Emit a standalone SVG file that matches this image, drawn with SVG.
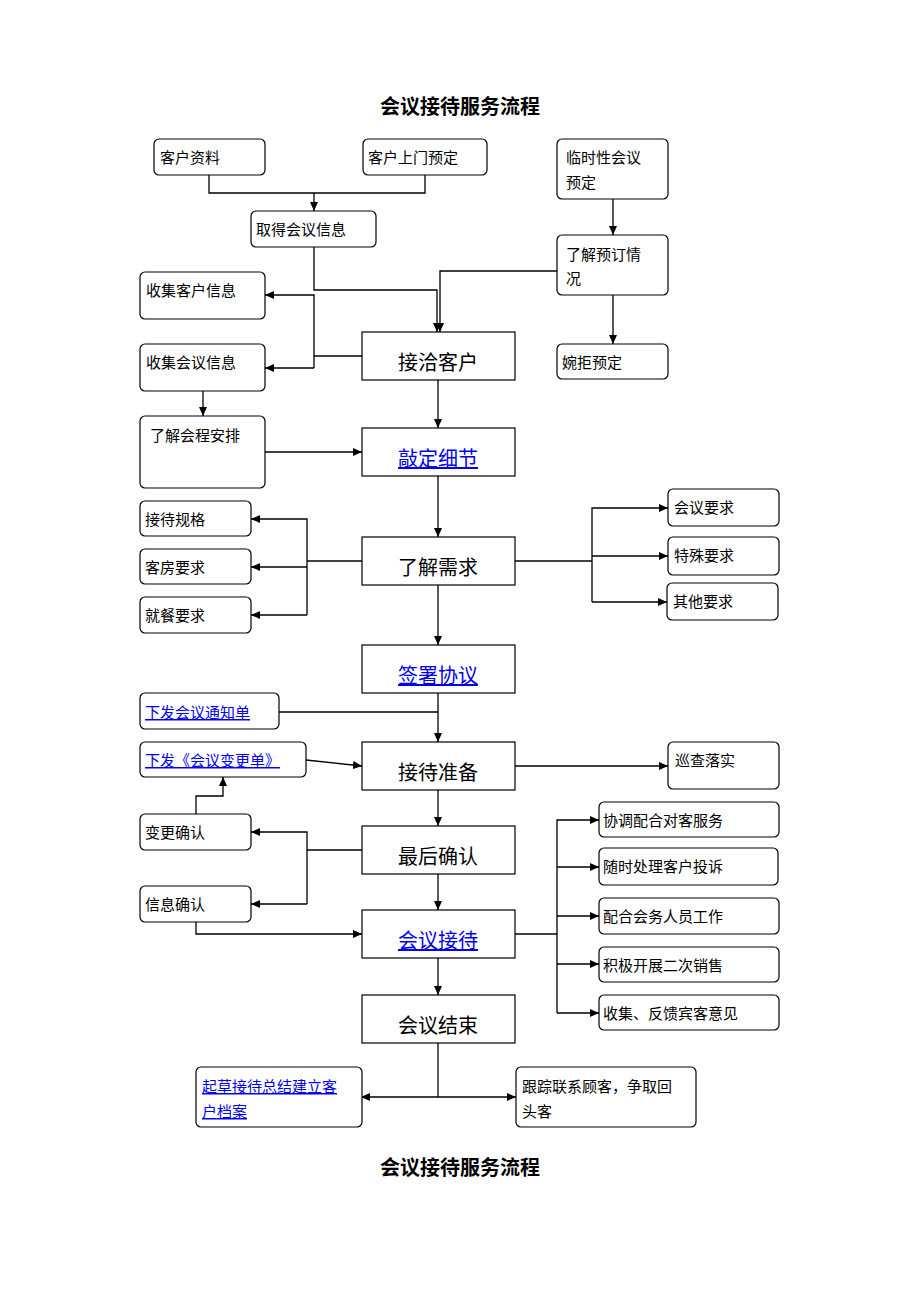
<svg xmlns="http://www.w3.org/2000/svg" width="920" height="1302" viewBox="0 0 920 1302">
<defs>
<marker id="a" markerWidth="10" markerHeight="10" refX="9" refY="5" orient="auto" markerUnits="userSpaceOnUse"><path d="M0,1 L9,5 L0,9 Z" fill="#000"/></marker>
<marker id="s" markerWidth="10" markerHeight="10" refX="1" refY="5" orient="auto" markerUnits="userSpaceOnUse"><path d="M9,1 L0,5 L9,9 Z" fill="#000"/></marker>
</defs>
<style>
text{font-family:"Noto Sans CJK SC","Liberation Sans",sans-serif;fill:#000}
.r{fill:#fff;stroke:#000;stroke-width:1.2}
.t{font-size:15px}
.m{font-size:20px;text-anchor:middle}
.l{fill:#0000ee;text-decoration:underline}
.title{font-size:20px;font-weight:bold;text-anchor:middle}
#c path,#c line,#c polyline{fill:none;stroke:#000;stroke-width:1.3}
</style>
<rect width="920" height="1302" fill="#fff"/>
<text class="title" x="460" y="114">会议接待服务流程</text>
<text class="title" x="460" y="1175">会议接待服务流程</text>
<g id="c">
<polyline points="209,175 209,193 425,193 425,175"/>
<line x1="314" y1="193" x2="314" y2="211" marker-end="url(#a)"/>
<polyline points="314,247 314,290 437,290 437,332" marker-end="url(#a)"/>
<polyline points="557,271 440,271 440,332" marker-end="url(#a)"/>
<line x1="613" y1="199" x2="613" y2="235" marker-end="url(#a)"/>
<line x1="613" y1="295" x2="613" y2="344" marker-end="url(#a)"/>
<line x1="362" y1="356" x2="314" y2="356"/>
<polyline points="314,368 314,295 265,295" marker-end="url(#a)"/>
<line x1="314" y1="368" x2="265" y2="368" marker-end="url(#a)"/>
<line x1="203" y1="391" x2="203" y2="416" marker-end="url(#a)"/>
<line x1="265" y1="452" x2="362" y2="452" marker-end="url(#a)"/>
<line x1="438" y1="380" x2="438" y2="428" marker-end="url(#a)"/>
<line x1="438" y1="476" x2="438" y2="537" marker-end="url(#a)"/>
<line x1="438" y1="585" x2="438" y2="645" marker-end="url(#a)"/>
<line x1="438" y1="693" x2="438" y2="742" marker-end="url(#a)"/>
<line x1="438" y1="790" x2="438" y2="826" marker-end="url(#a)"/>
<line x1="438" y1="874" x2="438" y2="910" marker-end="url(#a)"/>
<line x1="438" y1="958" x2="438" y2="995" marker-end="url(#a)"/>
<line x1="362" y1="561" x2="307" y2="561"/>
<polyline points="307,615 307,519 251,519" marker-end="url(#a)"/>
<line x1="307" y1="567" x2="251" y2="567" marker-end="url(#a)"/>
<line x1="307" y1="615" x2="251" y2="615" marker-end="url(#a)"/>
<line x1="515" y1="561" x2="592" y2="561"/>
<polyline points="592,602 592,508 668,508" marker-end="url(#a)"/>
<line x1="592" y1="556" x2="668" y2="556" marker-end="url(#a)"/>
<line x1="592" y1="602" x2="667" y2="602" marker-end="url(#a)"/>
<line x1="279" y1="712" x2="438" y2="712"/>
<line x1="306" y1="760" x2="362" y2="766" marker-end="url(#a)"/>
<line x1="515" y1="766" x2="668" y2="766" marker-end="url(#a)"/>
<line x1="362" y1="850" x2="307" y2="850"/>
<polyline points="307,904 307,832 251,832" marker-end="url(#a)"/>
<line x1="307" y1="904" x2="251" y2="904" marker-end="url(#a)"/>
<polyline points="196,814 196,796 223,796 223,777" marker-end="url(#a)"/>
<polyline points="196,922 196,934 362,934" marker-end="url(#a)"/>
<line x1="515" y1="934" x2="557" y2="934"/>
<polyline points="557,1013 557,820 599,820" marker-end="url(#a)"/>
<line x1="557" y1="867" x2="599" y2="867" marker-end="url(#a)"/>
<line x1="557" y1="916" x2="599" y2="916" marker-end="url(#a)"/>
<line x1="557" y1="964" x2="599" y2="964" marker-end="url(#a)"/>
<line x1="557" y1="1013" x2="599" y2="1013" marker-end="url(#a)"/>
<line x1="438" y1="1043" x2="438" y2="1097"/>
<line x1="362" y1="1097" x2="516" y2="1097" marker-start="url(#s)" marker-end="url(#a)"/>
</g>
<g id="n1"><rect class="r" x="154" y="139" width="111" height="36" rx="5"/><text class="t" x="160" y="163">客户资料</text></g>
<g id="n2"><rect class="r" x="363" y="139" width="124" height="36" rx="5"/><text class="t" x="368" y="163">客户上门预定</text></g>
<g id="n3"><rect class="r" x="557" y="139" width="111" height="60" rx="5"/><text class="t" x="566" y="163">临时性会议</text><text class="t" x="566" y="188">预定</text></g>
<g id="n4"><rect class="r" x="251" y="211" width="125" height="36" rx="5"/><text class="t" x="256" y="235">取得会议信息</text></g>
<g id="n5"><rect class="r" x="557" y="235" width="111" height="60" rx="5"/><text class="t" x="566" y="260">了解预订情</text><text class="t" x="566" y="284">况</text></g>
<g id="n6"><rect class="r" x="140" y="272" width="125" height="47" rx="5"/><text class="t" x="146" y="296">收集客户信息</text></g>
<g id="n7"><rect class="r" x="140" y="344" width="125" height="47" rx="5"/><text class="t" x="146" y="368">收集会议信息</text></g>
<g id="n8"><rect class="r" x="557" y="344" width="111" height="35" rx="5"/><text class="t" x="562" y="368">婉拒预定</text></g>
<g id="n9"><rect class="r" x="140" y="416" width="125" height="72" rx="5"/><text class="t" x="150" y="441">了解会程安排</text></g>
<g id="m1"><rect class="r" x="362" y="332" width="153" height="48"/><text class="m" x="438" y="370">接洽客户</text></g>
<g id="m2"><rect class="r" x="362" y="428" width="153" height="48"/><text class="m l" x="438" y="466">敲定细节</text></g>
<g id="m3"><rect class="r" x="362" y="537" width="153" height="48"/><text class="m" x="438" y="575">了解需求</text></g>
<g id="m4"><rect class="r" x="362" y="645" width="153" height="48"/><text class="m l" x="438" y="683">签署协议</text></g>
<g id="m5"><rect class="r" x="362" y="742" width="153" height="48"/><text class="m" x="438" y="780">接待准备</text></g>
<g id="m6"><rect class="r" x="362" y="826" width="153" height="48"/><text class="m" x="438" y="864">最后确认</text></g>
<g id="m7"><rect class="r" x="362" y="910" width="153" height="48"/><text class="m l" x="438" y="948">会议接待</text></g>
<g id="m8"><rect class="r" x="362" y="995" width="153" height="48"/><text class="m" x="438" y="1033">会议结束</text></g>
<g id="n10"><rect class="r" x="140" y="501" width="111" height="35" rx="5"/><text class="t" x="145" y="525">接待规格</text></g>
<g id="n11"><rect class="r" x="140" y="549" width="111" height="35" rx="5"/><text class="t" x="145" y="573">客房要求</text></g>
<g id="n12"><rect class="r" x="140" y="597" width="111" height="36" rx="5"/><text class="t" x="145" y="621">就餐要求</text></g>
<g id="n13"><rect class="r" x="668" y="489" width="111" height="37" rx="5"/><text class="t" x="674" y="513">会议要求</text></g>
<g id="n14"><rect class="r" x="668" y="537" width="111" height="38" rx="5"/><text class="t" x="674" y="561">特殊要求</text></g>
<g id="n15"><rect class="r" x="667" y="583" width="111" height="37" rx="5"/><text class="t" x="673" y="607">其他要求</text></g>
<g id="n16"><rect class="r" x="140" y="693" width="139" height="36" rx="5"/><text class="t l" x="145" y="718">下发会议通知单</text></g>
<g id="n17"><rect class="r" x="140" y="742" width="166" height="35" rx="5"/><text class="t l" x="145" y="766">下发《会议变更单》</text></g>
<g id="n18"><rect class="r" x="668" y="742" width="111" height="47" rx="5"/><text class="t" x="675" y="766">巡查落实</text></g>
<g id="n19"><rect class="r" x="140" y="814" width="111" height="36" rx="5"/><text class="t" x="145" y="838">变更确认</text></g>
<g id="n20"><rect class="r" x="140" y="886" width="111" height="36" rx="5"/><text class="t" x="145" y="910">信息确认</text></g>
<g id="n21"><rect class="r" x="599" y="802" width="180" height="35" rx="5"/><text class="t" x="603" y="826">协调配合对客服务</text></g>
<g id="n22"><rect class="r" x="599" y="848" width="179" height="37" rx="5"/><text class="t" x="603" y="872">随时处理客户投诉</text></g>
<g id="n23"><rect class="r" x="599" y="898" width="180" height="36" rx="5"/><text class="t" x="603" y="922">配合会务人员工作</text></g>
<g id="n24"><rect class="r" x="599" y="947" width="180" height="35" rx="5"/><text class="t" x="603" y="971">积极开展二次销售</text></g>
<g id="n25"><rect class="r" x="599" y="995" width="180" height="35" rx="5"/><text class="t" x="603" y="1019">收集、反馈宾客意见</text></g>
<g id="n26"><rect class="r" x="196" y="1067" width="166" height="60" rx="5"/><text class="t l" x="202" y="1092">起草接待总结建立客</text><text class="t l" x="202" y="1117">户档案</text></g>
<g id="n27"><rect class="r" x="516" y="1067" width="180" height="60" rx="5"/><text class="t" x="522" y="1092">跟踪联系顾客，争取回</text><text class="t" x="522" y="1117">头客</text></g>
</svg>
